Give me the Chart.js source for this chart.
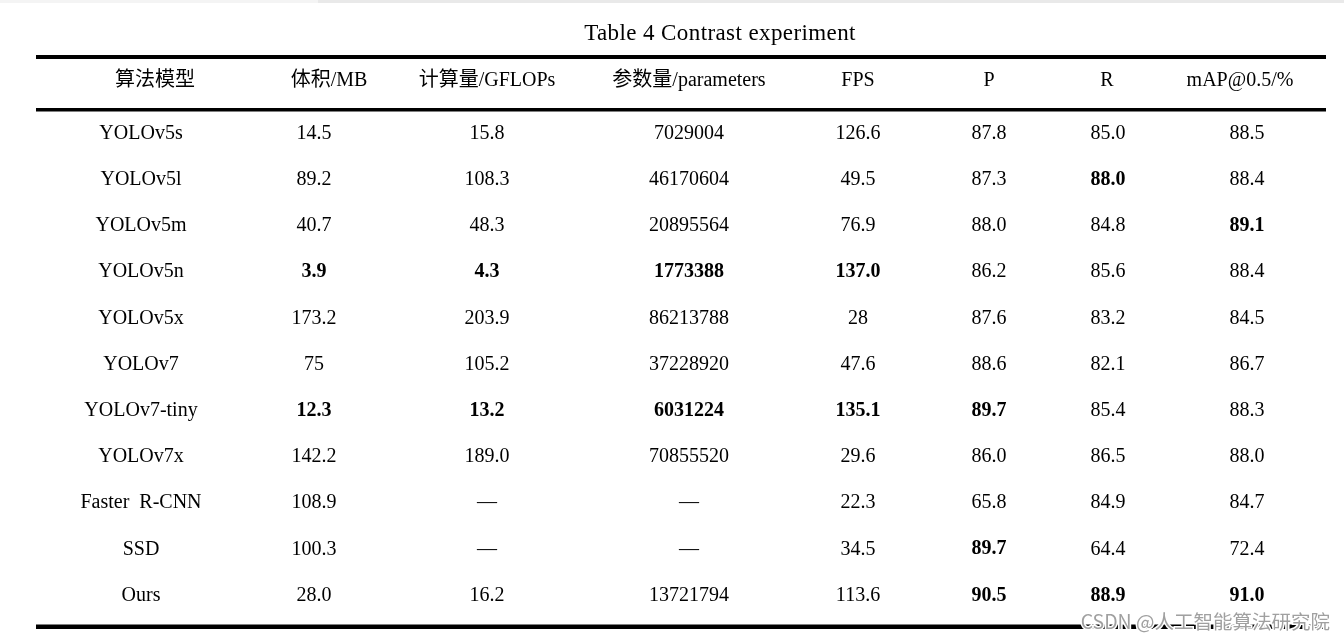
<!DOCTYPE html>
<html>
<head>
<meta charset="utf-8">
<script src="https://cdn.jsdelivr.net/npm/chart.js@4.4.1/dist/chart.umd.min.js"></script>
<style>
html,body{margin:0;padding:0;background:#fff;}
#wrap{width:1344px;height:644px;position:relative;}
canvas{display:block;}
</style>
</head>
<body>
<div id="wrap"><canvas id="c" width="1344" height="644"></canvas></div>
<script>
// ---------- DATA ----------
const title = "Table 4 Contrast experiment";
const headers = ["算法模型", "体积/MB", "计算量/GFLOPs", "参数量/parameters", "FPS", "P", "R", "mAP@0.5/%"];
const models = ["YOLOv5s", "YOLOv5l", "YOLOv5m", "YOLOv5n", "YOLOv5x", "YOLOv7", "YOLOv7-tiny", "YOLOv7x", "Faster  R-CNN", "SSD", "Ours"];
const sizeMB = ["14.5", "89.2", "40.7", "3.9", "173.2", "75", "12.3", "142.2", "108.9", "100.3", "28.0"];
const gflops = ["15.8", "108.3", "48.3", "4.3", "203.9", "105.2", "13.2", "189.0", "—", "—", "16.2"];
const params = ["7029004", "46170604", "20895564", "1773388", "86213788", "37228920", "6031224", "70855520", "—", "—", "13721794"];
const fps = ["126.6", "49.5", "76.9", "137.0", "28", "47.6", "135.1", "29.6", "22.3", "34.5", "113.6"];
const precision = ["87.8", "87.3", "88.0", "86.2", "87.6", "88.6", "89.7", "86.0", "65.8", "89.7", "90.5"];
const recall = ["85.0", "88.0", "84.8", "85.6", "83.2", "82.1", "85.4", "86.5", "84.9", "64.4", "88.9"];
const mAP = ["88.5", "88.4", "89.1", "88.4", "84.5", "86.7", "88.3", "88.0", "84.7", "72.4", "91.0"];
// bold flags: [row, column]
const boldCells = [[1,6],[2,7],[3,1],[3,2],[3,3],[3,4],[6,1],[6,2],[6,3],[6,4],[6,5],[9,5],[10,5],[10,6],[10,7]];
const watermarkText = "CSDN @人工智能算法研究院";

// ---------- LAYOUT (positions / styles, not data) ----------
const W = 1344, H = 644;
const headerX = [155, 329, 487, 689, 858, 989, 1107, 1240];
const cellX   = [141, 314, 487, 689, 858, 989, 1108, 1247];
const titleY = 33.5, headerY = 80.5, row0Y = 133.5, rowPitch = 46.2;
const ruleL = 36, ruleR = 1326;
const rules = [{y:55, h:4}, {y:108, h:3.5}, {y:624.5, h:4.5}];
const SERIF = '"Liberation Serif", "Times New Roman", "Noto Sans CJK SC", serif';
const CJK = '"Noto Sans CJK SC", "Liberation Serif", serif';

const columns = [models, sizeMB, gflops, params, fps, precision, recall, mAP];
const isBold = (r, c) => boldCells.some(b => b[0] === r && b[1] === c);

const datasets = columns.map((col, c) => ({
  label: headers[c],
  data: col.map((v, r) => ({x: cellX[c], y: row0Y + rowPitch * r, text: v, bold: isBold(r, c)})),
  pointRadius: 0,
  showLine: false
}));

const tablePlugin = {
  id: 'tableText',
  beforeDraw(chart) {
    const ctx = chart.ctx;
    ctx.save();
    ctx.fillStyle = '#fff';
    ctx.fillRect(0, 0, W, H);
    ctx.fillStyle = '#f4f4f4';
    ctx.fillRect(0, 0, 318, 3);
    ctx.fillStyle = '#e9e9e9';
    ctx.fillRect(318, 0, W - 318, 3);
    ctx.restore();
  },
  afterDatasetsDraw(chart) {
    const ctx = chart.ctx;
    const xs = chart.scales.x, ys = chart.scales.y;
    ctx.save();
    ctx.fillStyle = '#000';
    ctx.textAlign = 'center';
    ctx.textBaseline = 'middle';
    ctx.font = '23px ' + SERIF;
    ctx.letterSpacing = '0.4px';
    ctx.fillText(title, xs.getPixelForValue(720), ys.getPixelForValue(titleY));
    ctx.letterSpacing = '0px';
    rules.forEach(r => {
      const y0 = ys.getPixelForValue(r.y);
      ctx.fillRect(xs.getPixelForValue(ruleL), y0, xs.getPixelForValue(ruleR) - xs.getPixelForValue(ruleL), r.h);
    });
    headers.forEach((h, c) => {
      ctx.font = '20px ' + SERIF;
      ctx.fillText(h, xs.getPixelForValue(headerX[c]), ys.getPixelForValue(headerY));
    });
    chart.data.datasets.forEach((ds, di) => {
      const meta = chart.getDatasetMeta(di);
      meta.data.forEach((pt, i) => {
        const d = ds.data[i];
        ctx.font = (d.bold ? 'bold ' : '') + '20px ' + SERIF;
        ctx.fillText(d.text, pt.x, pt.y);
      });
    });
    ctx.font = '19.5px ' + CJK;
    ctx.textAlign = 'right';
    ctx.lineWidth = 3;
    ctx.strokeStyle = '#fff';
    ctx.strokeText(watermarkText, 1330, 622);
    ctx.fillStyle = '#a0a0a0';
    ctx.fillText(watermarkText, 1330, 622);
    ctx.restore();
  }
};

new Chart(document.getElementById('c'), {
  type: 'scatter',
  data: { datasets },
  options: {
    responsive: false,
    animation: false,
    events: [],
    layout: { padding: 0 },
    plugins: { legend: { display: false }, tooltip: { enabled: false }, title: { display: false } },
    scales: {
      x: { type: 'linear', display: false, min: 0, max: W },
      y: { type: 'linear', display: false, min: 0, max: H, reverse: true }
    }
  },
  plugins: [tablePlugin]
});
</script>
</body>
</html>
